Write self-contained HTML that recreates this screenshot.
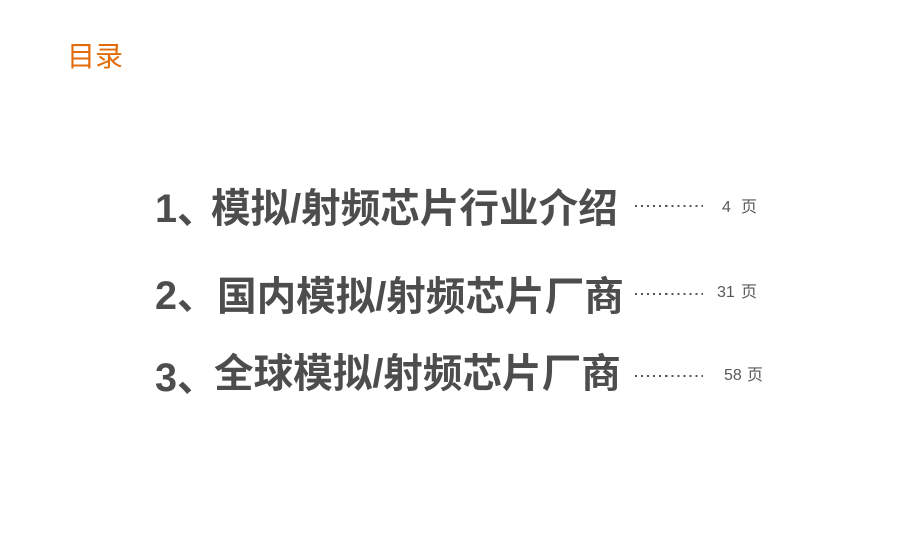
<!DOCTYPE html>
<html><head><meta charset="utf-8"><style>
html,body{margin:0;padding:0;background:#fff}
body{width:906px;height:538px;position:relative;overflow:hidden;font-family:"Liberation Sans","Noto Sans CJK SC",sans-serif}
div{position:absolute;white-space:nowrap;line-height:1}
.t{font-size:39.6px;font-weight:700;color:#4d4d4d}
.n{font-size:16px;color:#595959}
.d{left:635px;width:68px;height:2px;background:repeating-linear-gradient(90deg,#555 0 2px,transparent 2px 6.05px)}
</style></head><body>
<div style="left:67px;top:43px;font-size:28px;color:#e36c0a">目录</div>
<div class="t" style="left:155px;top:190px">1</div><div class="t" style="left:177px;top:191px">、</div><div class="t" style="left:211px;top:190px">模拟/射频芯片行业介绍</div>
<div class="t" style="left:155px;top:277px">2</div><div class="t" style="left:177px;top:277px">、</div><div class="t" style="left:217px;top:278px">国内模拟/射频芯片厂商</div>
<div class="t" style="left:155px;top:359px">3</div><div class="t" style="left:177px;top:359px">、</div><div class="t" style="left:214px;top:355px">全球模拟/射频芯片厂商</div>
<div class="d" style="top:205px"></div><div class="d" style="top:293px"></div><div class="d" style="top:375px"></div>
<div class="n" style="left:722px;top:200px">4</div><div class="n" style="left:741px;top:200px">页</div>
<div class="n" style="left:717px;top:285px">31</div><div class="n" style="left:741px;top:285px">页</div>
<div class="n" style="left:724px;top:368px">58</div><div class="n" style="left:747px;top:368px">页</div>
</body></html>
